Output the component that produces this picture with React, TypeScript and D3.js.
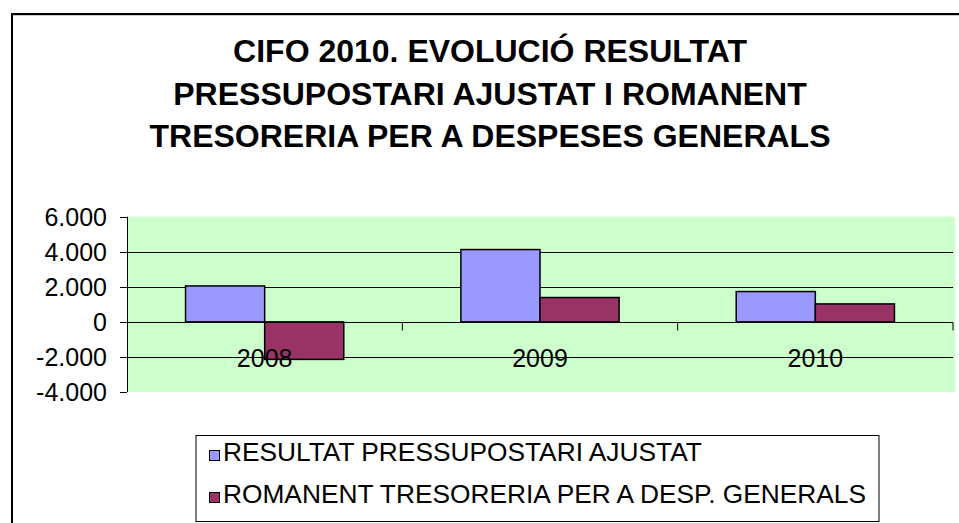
import React, { useEffect, useRef } from 'react';
import * as d3 from 'd3';

const categories = ['2008', '2009', '2010'];
const seriesNames = ['RESULTAT PRESSUPOSTARI AJUSTAT', 'ROMANENT TRESORERIA PER A DESP. GENERALS'];
const resultat = [2050, 4125, 1730];
const romanent = [-2140, 1390, 1025];
const yTicks = [-4000, -2000, 0, 2000, 4000, 6000];
const titleLines = ['CIFO 2010. EVOLUCIÓ RESULTAT', 'PRESSUPOSTARI AJUSTAT I ROMANENT', 'TRESORERIA PER A DESPESES GENERALS'];
const colors = ['#9999FF', '#993366'];

// Spanish/Catalan style thousands: 6.000, -2.000
const fmt = (v: number) => (v === 0 ? '0' : d3.format(',')(v).replace(/,/g, '.').replace('\u2212', '-'));

const App = () => {
  const svgRef = useRef<SVGSVGElement>(null);

  useEffect(() => {
    const width = 959;
    const height = 523;
    const font = '"Liberation Sans", Arial, sans-serif';

    const svg = d3.select(svgRef.current);
    svg.selectAll('*').remove();
    svg.attr('width', width).attr('height', height);

    svg.append('rect').attr('width', width).attr('height', height).attr('fill', 'white');

    // outer chart frame (runs off the right and bottom edge)
    svg.append('rect')
      .attr('x', 12).attr('y', 14)
      .attr('width', 1000).attr('height', 600)
      .attr('fill', 'none').attr('stroke', '#000').attr('stroke-width', 2);
    svg.append('line')
      .attr('x1', 13).attr('x2', width).attr('y1', 15.5).attr('y2', 15.5)
      .attr('stroke', '#ccc').attr('stroke-width', 1);

    // title
    svg.append('text')
      .attr('x', 490)
      .attr('text-anchor', 'middle')
      .style('font-family', font)
      .style('font-weight', 'bold')
      .style('font-size', '32px')
      .selectAll('tspan')
      .data(titleLines)
      .enter()
      .append('tspan')
      .attr('x', 490)
      .attr('y', (d, i) => 62 + i * 42.5)
      .text(d => d);

    const plot = { left: 127, right: 953, top: 216.7, bottom: 392 };

    const y = d3.scaleLinear().domain([-4000, 6000]).range([plot.bottom, plot.top]);
    const x0 = d3.scaleBand().domain(categories).range([plot.left, plot.right]).padding(0);
    const x1 = d3.scaleBand().domain(['0', '1']).range([0, x0.bandwidth()]).paddingInner(0).paddingOuter(0.74);

    // plot area background
    svg.append('rect')
      .attr('x', plot.left).attr('y', plot.top)
      .attr('width', plot.right + 2 - plot.left).attr('height', plot.bottom - plot.top)
      .attr('fill', '#CCFFCC');

    // gridlines
    svg.append('g')
      .selectAll('line')
      .data(yTicks.filter(t => t !== 0 && t !== -4000 && t !== 6000))
      .enter()
      .append('line')
      .attr('x1', plot.left).attr('x2', plot.right)
      .attr('y1', d => Math.round(y(d)) + 0.5).attr('y2', d => Math.round(y(d)) + 0.5)
      .attr('stroke', '#000').attr('stroke-width', 1);

    // bars
    const series = [resultat, romanent];
    const groups = svg.append('g')
      .selectAll('g')
      .data(categories)
      .enter()
      .append('g')
      .attr('transform', d => `translate(${x0(d)},0)`);

    groups.selectAll('rect')
      .data((d, ci) => series.map((s, si) => ({ si, v: s[ci] })))
      .enter()
      .append('rect')
      .attr('x', d => x1(String(d.si)) as number)
      .attr('width', x1.bandwidth())
      .attr('y', d => y(Math.max(0, d.v)))
      .attr('height', d => Math.abs(y(d.v) - y(0)))
      .attr('fill', d => colors[d.si])
      .attr('stroke', '#000')
      .attr('stroke-width', 1.5);

    // y axis
    const yAxis = svg.append('g').attr('transform', `translate(${plot.left},0)`);
    yAxis.append('line')
      .attr('x1', 0.5).attr('x2', 0.5).attr('y1', plot.top).attr('y2', plot.bottom)
      .attr('stroke', '#000');
    yAxis.selectAll('line.tick')
      .data(yTicks)
      .enter()
      .append('line')
      .attr('class', 'tick')
      .attr('x1', -7).attr('x2', 0)
      .attr('y1', d => Math.round(y(d)) + 0.5).attr('y2', d => Math.round(y(d)) + 0.5)
      .attr('stroke', '#000');
    yAxis.selectAll('text')
      .data(yTicks)
      .enter()
      .append('text')
      .attr('x', -20)
      .attr('y', d => y(d))
      .attr('dy', '0.36em')
      .attr('text-anchor', 'end')
      .style('font-family', font)
      .style('font-size', '25px')
      .text(d => fmt(d));

    // category axis along zero
    const zeroY = Math.round(y(0)) + 0.5;
    svg.append('line')
      .attr('x1', plot.left).attr('x2', plot.right)
      .attr('y1', zeroY).attr('y2', zeroY)
      .attr('stroke', '#000');
    svg.selectAll('line.ctick')
      .data(categories.map(c => (x0(c) as number) + x0.bandwidth()))
      .enter()
      .append('line')
      .attr('class', 'ctick')
      .attr('x1', d => d).attr('x2', d => d)
      .attr('y1', zeroY).attr('y2', zeroY + 8)
      .attr('stroke', '#000');
    svg.selectAll('text.cat')
      .data(categories)
      .enter()
      .append('text')
      .attr('class', 'cat')
      .attr('x', d => (x0(d) as number) + x0.bandwidth() / 2)
      .attr('y', 367)
      .attr('text-anchor', 'middle')
      .style('font-family', font)
      .style('font-size', '25px')
      .text(d => d);

    // legend
    const legend = svg.append('g');
    legend.append('rect')
      .attr('x', 196).attr('y', 435.5)
      .attr('width', 683).attr('height', 86)
      .attr('fill', 'white').attr('stroke', '#000').attr('stroke-width', 1);
    const items = legend.selectAll('g')
      .data(seriesNames)
      .enter()
      .append('g')
      .attr('transform', (d, i) => `translate(0,${i * 42})`);
    items.append('rect')
      .attr('x', 209.5).attr('y', 450.5)
      .attr('width', 10).attr('height', 10)
      .attr('fill', (d, i) => colors[i])
      .attr('stroke', '#000').attr('stroke-width', 1);
    items.append('text')
      .attr('x', 223)
      .attr('y', 461)
      .style('font-family', font)
      .style('font-size', '26.3px')
      .text(d => d);
  }, []);

  return (
    <div>
      <svg ref={svgRef} style={{ position: 'absolute', left: 0, top: 0 }}></svg>
    </div>
  );
};

export default App;
